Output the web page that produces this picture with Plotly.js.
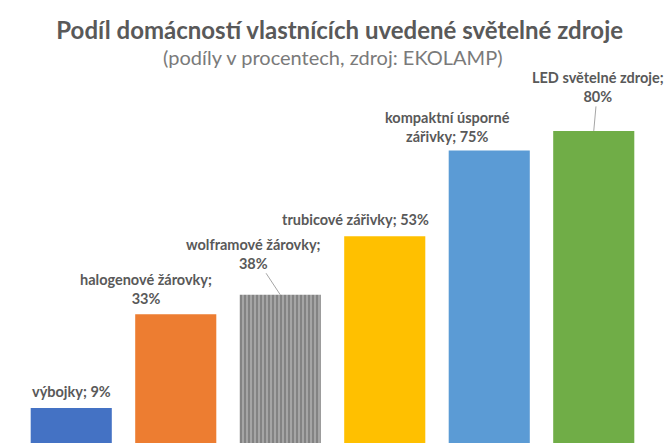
<!DOCTYPE html>
<html>
<head>
<meta charset="utf-8">
<script src="https://cdn.plot.ly/plotly-3.0.1.min.js"></script>
<style>html,body{margin:0;padding:0;background:#fff;overflow:hidden;}</style>
</head>
<body>
<div id="chart" style="width:670px;height:445px;"></div>
<script>
const categories = ["výbojky", "halogenové žárovky", "wolframové žárovky", "trubicové zářivky", "kompaktní úsporné zářivky", "LED světelné zdroje"];
const labelNames = ["výbojky", "halogenové žárovky;", "wolframové žárovky;", "trubicové zářivky", "kompaktní úsporné<br>zářivky", "LED světelné zdroje;"];
const values = [9, 33, 38, 53, 75, 80];
const colors = ["#4472C4", "#ED7D31", "#A5A5A5", "#FFC000", "#5B9BD5", "#70AD47"];
const titleText = "Podíl domácností vlastnících uvedené světelné zdroje";
const subtitleText = "(podíly v procentech, zdroj: EKOLAMP)";

const labelFont = {family: "Lato, 'Open Sans', sans-serif", size: 14.5, color: "#595959", weight: "bold"};

const trace = {
  type: "bar",
  x: categories,
  y: values,
  marker: {
    color: colors,
    pattern: {
      shape: ["", "", "|", "", "", ""],
      fgcolor: "#b3b3b3",
      fillmode: "overlay",
      size: 4,
      solidity: 0.35
    },
    line: {width: 0}
  },
  hoverinfo: "none"
};

const fmt = (i, sep) => "<b>" + labelNames[i] + sep + values[i] + "%</b>";

const annotations = [
  {x: categories[0], y: values[0], text: "<b>" + labelNames[0] + "; " + values[0] + "%</b>", showarrow: false, yanchor: "bottom", yshift: 6, xshift: 0},
  {x: categories[1], y: values[1], text: fmt(1, "<br>"), showarrow: false, yanchor: "bottom", yshift: 5, xshift: -30},
  {x: categories[2], y: values[2], text: fmt(2, "<br>"), showarrow: true, arrowhead: 0, arrowwidth: 1, arrowcolor: "#A6A6A6", ax: -27, ay: -41},
  {x: categories[3], y: values[3], text: "<b>" + labelNames[3] + "; " + values[3] + "%</b>", showarrow: false, yanchor: "bottom", yshift: 6, xshift: -29},
  {x: categories[4], y: values[4], text: fmt(4, "; "), showarrow: false, yanchor: "bottom", yshift: 3, xshift: -42},
  {x: categories[5], y: values[5], text: fmt(5, "<br>"), showarrow: true, arrowhead: 0, arrowwidth: 1, arrowcolor: "#A6A6A6", ax: 4, ay: -44},
  {xref: "paper", yref: "paper", x: 0.5, y: 0.957, xanchor: "center", yanchor: "middle", showarrow: false,
   text: subtitleText, font: {family: "Lato, 'Open Sans', sans-serif", size: 20, color: "#7a7a7a"}}
].map(a => Object.assign({font: labelFont, align: "center"}, a));

const layout = {
  width: 670,
  height: 445,
  margin: {l: 19, r: 24, t: 40, b: 2, autoexpand: false},
  paper_bgcolor: "#ffffff",
  plot_bgcolor: "#ffffff",
  showlegend: false,
  bargap: 0.224,
  title: {
    text: "<b>" + titleText + "</b>",
    font: {family: "Lato, 'Open Sans', sans-serif", size: 24, color: "#595959"},
    x: 0.507, xref: "container", xanchor: "center",
    y: 1 - 31 / 445, yref: "container", yanchor: "middle"
  },
  xaxis: {visible: false, showgrid: false, zeroline: false, range: [-0.5, 5.5]},
  yaxis: {visible: false, showgrid: false, zeroline: false, range: [0, 103.3]},
  annotations: annotations
};

Plotly.newPlot("chart", [trace], layout, {displayModeBar: false, staticPlot: true});
</script>
</body>
</html>
